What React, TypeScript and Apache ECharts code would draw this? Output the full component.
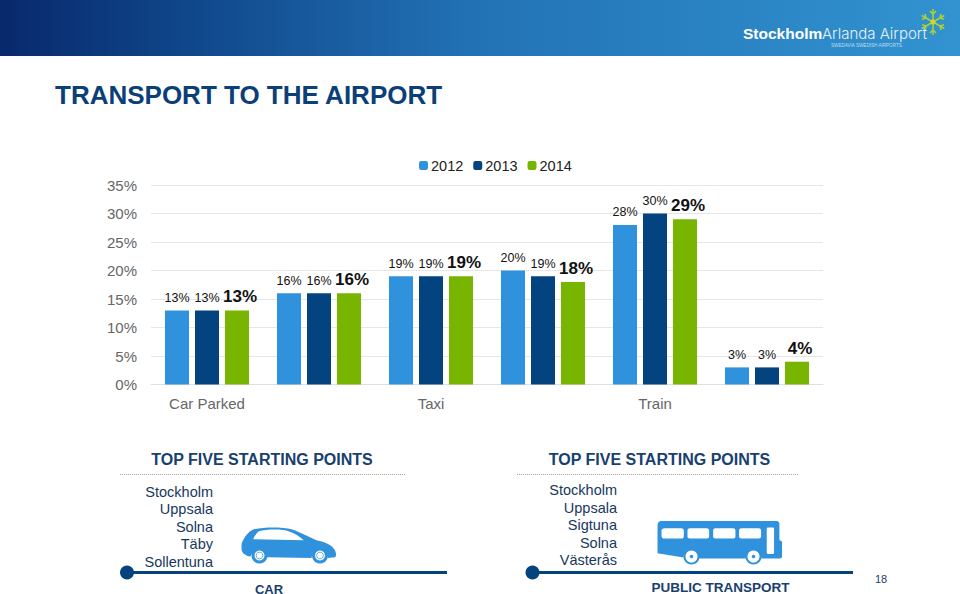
import React, { useEffect, useRef } from "react";
import * as echarts from "echarts";

const categories = ["Car Parked", "Car Returning", "Taxi", "Bus", "Train", "Other"];
const values2012 = [13, 16, 19, 20, 28, 3];
const values2013 = [13, 16, 19, 19, 30, 3];
const values2014 = [13, 16, 19, 18, 29, 4];
const carPoints = ["Stockholm", "Uppsala", "Solna", "Täby", "Sollentuna"];
const transitPoints = ["Stockholm", "Uppsala", "Sigtuna", "Solna", "Västerås"];

const BLUE = "#3092DC";
const NAVY = "#03437F";
const GREEN = "#78B500";
const FONT = "'Liberation Sans', Arial, sans-serif";

const carBody = "M395 312 C402 292 415 275 432 268 C470 260 520 262 545 268 C570 276 600 292 622 302 C645 306 665 314 675 330 C680 340 680 348 676 352 L655 354 C650 325 610 325 605 354 L472 352 C465 325 428 325 422 350 C410 348 398 342 395 330 Z M430 298 L582 301 C565 285 545 274 520 270 C495 268 465 269 447 274 C440 280 434 288 430 298 Z";
const busBody = "M455 243 L800 243 C806 243 809 246 809 252 L809 300 L817 305 L817 350 C817 354 814 356 810 356 L755 356 C752 318 710 318 708 356 L568 356 C565 318 524 318 521 353 L443 340 L443 255 C443 248 448 243 455 243 Z M465 265 C458 265 455 268 455 274 L455 288 C455 293 458 296 465 296 L514 296 C520 296 522 293 522 288 L522 272 C522 268 520 265 514 265 Z M540 265 C535 265 533 268 533 272 L533 290 C533 294 535 296 540 296 L591 296 C596 296 598 294 598 290 L598 272 C598 268 596 265 591 265 Z M617 265 C612 265 610 268 610 272 L610 290 C610 294 612 296 617 296 L670 296 C675 296 677 294 677 290 L677 272 C677 268 675 265 670 265 Z M695 265 C690 265 688 268 688 272 L688 290 C688 294 690 296 695 296 L747 296 C752 296 754 294 754 290 L754 272 C754 268 752 265 747 265 Z M775 263 C772 263 771 265 771 267 L771 338 C771 341 772 342 775 342 L789 342 C792 342 793 341 793 338 L793 267 C793 265 792 263 789 263 Z";
const flakeArms = "M0 -13 L0 13 M-11.3 -6.5 L11.3 6.5 M-11.3 6.5 L11.3 -6.5 M-3 -11 L0 -8 L3 -11 M-3 11 L0 8 L3 11 M-11 -2.8 L-7 -4 L-8 -8 M11 2.8 L7 4 L8 8 M-11 2.8 L-7 4 L-8 8 M11 -2.8 L7 -4 L8 -8";

echarts.graphic.registerShape("carBody", echarts.graphic.extendPath(carBody, {}));
echarts.graphic.registerShape("busBody", echarts.graphic.extendPath(busBody, {}));
echarts.graphic.registerShape("flakeArms", echarts.graphic.extendPath(flakeArms, {}));

const txt = (x: number, y: number, text: string, style: any = {}) => ({
  type: "text", x, y,
  style: { text, fontFamily: FONT, textVerticalAlign: "middle", verticalAlign: "middle", ...style },
});

const rightList = (items: string[], x: number, y0: number, step: number) =>
  items.map((t, i) => txt(x, y0 + i * step, t, { fontSize: 14.5, fill: "#17375E", align: "right" }));

const hLine = (x1: number, x2: number, y: number, style: any) => ({
  type: "line", shape: { x1, y1: y, x2, y2: y }, style,
});

const wheel = (cx: number, cy: number, r: number) => ({
  type: "group",
  children: [
    { type: "circle", shape: { cx, cy, r }, style: { fill: BLUE } },
    { type: "circle", shape: { cx, cy, r: r * 0.62 }, style: { fill: "#fff" } },
    { type: "circle", shape: { cx, cy, r: r * 0.42 }, style: { fill: "#fff", stroke: BLUE, lineWidth: 0.8 } },
  ],
});

const busWheel = (cx: number, cy: number) => ({
  type: "group",
  children: [
    { type: "circle", shape: { cx, cy, r: 7 }, style: { fill: "#fff", stroke: BLUE, lineWidth: 2 } },
    { type: "circle", shape: { cx, cy, r: 1.8 }, style: { fill: BLUE } },
  ],
});

const barSeries = (name: string, data: number[], color: string, bold: boolean) => ({
  name,
  type: "bar",
  data,
  itemStyle: { color },
  barWidth: 24,
  barGap: "25%",
  label: {
    show: true,
    position: "top",
    distance: bold ? 5 : 6,
    offset: bold ? [3, 0] : [0, 0],
    formatter: "{c}%",
    fontFamily: FONT,
    color: "#111",
    fontSize: bold ? 17 : 12.5,
    fontWeight: bold ? "bold" : "normal",
  },
});

export default function App() {
  const ref = useRef<HTMLDivElement>(null);
  useEffect(() => {
    const chart = echarts.init(ref.current!, undefined, { renderer: "svg" });
    chart.setOption({
      animation: false,
      backgroundColor: "#fff",
      textStyle: { fontFamily: FONT },
      legend: {
        top: 153,
        left: 414,
        itemWidth: 9,
        itemHeight: 9,
        itemGap: 10,
        textStyle: { fontSize: 14.5, color: "#222", padding: [1, 0, 0, -2], fontFamily: FONT },
        data: ["2012", "2013", "2014"],
      },
      grid: { left: 151, right: 137, top: 185, bottom: 209.5, containLabel: false },
      xAxis: {
        type: "category",
        data: categories,
        axisTick: { show: false },
        axisLine: { lineStyle: { color: "#E0E0E0", width: 1 } },
        axisLabel: { color: "#666", fontSize: 15, margin: 11, fontFamily: FONT },
      },
      yAxis: {
        type: "value",
        min: 0,
        max: 35,
        interval: 5,
        axisLine: { show: false },
        axisTick: { show: false },
        splitLine: { lineStyle: { color: "#E6E6E6", width: 1 } },
        axisLabel: { formatter: "{value}%", color: "#666", fontSize: 15, margin: 14, fontFamily: FONT },
      },
      series: [
        barSeries("2012", values2012, BLUE, false),
        barSeries("2013", values2013, NAVY, false),
        barSeries("2014", values2014, GREEN, true),
      ],
      graphic: {
        elements: [
          {
            type: "rect",
            shape: { x: 0, y: 0, width: 960, height: 56 },
            style: {
              fill: new echarts.graphic.LinearGradient(0, 0, 1, 0, [
                { offset: 0, color: "#08296C" },
                { offset: 0.18, color: "#0F4488" },
                { offset: 0.5, color: "#2273B6" },
                { offset: 1, color: "#3293D0" },
              ]),
            },
          },
          txt(743, 33, "Stockholm", { fontSize: 15.5, fontWeight: "bold", fill: "#fff" }),
          txt(822, 33, "Arlanda Airport", { fontSize: 15, fill: "#E8F2FA", fontFamily: "Inter, 'Liberation Sans', sans-serif", fontWeight: 300, letterSpacing: -0.6 }),
          txt(831, 45.5, "SWEDAVIA SWEDISH AIRPORTS", { fontSize: 4.6, fill: "#BFDDF0" }),
          { type: "flakeArms", x: 933, y: 22, style: { fill: "none", stroke: "#A9CF38", lineWidth: 1.6 } },
          { type: "circle", shape: { cx: 933, cy: 22, r: 2.6 }, style: { fill: "#C8D63A" } },

          txt(55, 95, "TRANSPORT TO THE AIRPORT", { fontSize: 26, fontWeight: "bold", fill: "#0B3F78" }),

          txt(262, 459.5, "TOP FIVE STARTING POINTS", { fontSize: 16, fontWeight: "bold", fill: "#17406F", align: "center" }),
          txt(659.5, 459.5, "TOP FIVE STARTING POINTS", { fontSize: 16, fontWeight: "bold", fill: "#17406F", align: "center" }),
          hLine(120, 405, 474.5, { stroke: "#A6A6A6", lineWidth: 1, lineDash: [1, 1] }),
          hLine(517, 799, 474.5, { stroke: "#A6A6A6", lineWidth: 1, lineDash: [1, 1] }),

          ...rightList(carPoints, 213, 491.5, 17.6),
          ...rightList(transitPoints, 617, 490, 17.6),

          { type: "carBody", x: 110, y: 440, scaleX: 1 / 3, scaleY: 1 / 3, style: { fill: BLUE } },
          wheel(259.5, 555.5, 8),
          wheel(320, 555.5, 8),

          { type: "busBody", x: 510, y: 440, scaleX: 1 / 3, scaleY: 1 / 3, style: { fill: BLUE } },
          busWheel(691.5, 556.5),
          busWheel(753.5, 556.5),

          hLine(127, 447, 572.5, { stroke: NAVY, lineWidth: 3 }),
          { type: "circle", shape: { cx: 127, cy: 572.5, r: 7 }, style: { fill: NAVY } },
          hLine(532, 853, 572.5, { stroke: NAVY, lineWidth: 3 }),
          { type: "circle", shape: { cx: 532.5, cy: 572.5, r: 7 }, style: { fill: NAVY } },

          txt(269, 589, "CAR", { fontSize: 13, fontWeight: "bold", fill: "#17406F", align: "center" }),
          txt(720.5, 587.5, "PUBLIC TRANSPORT", { fontSize: 13.5, fontWeight: "bold", fill: "#17406F", align: "center" }),
          txt(881, 579, "18", { fontSize: 11, fill: "#17406F", align: "center" }),
        ],
      },
    });
    return () => chart.dispose();
  }, []);
  return <div ref={ref} style={{ position: "fixed", left: 0, top: 0, width: 960, height: 594 }} />;
}
